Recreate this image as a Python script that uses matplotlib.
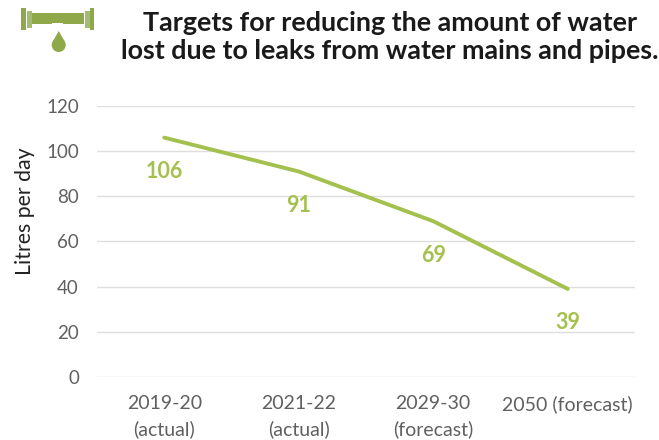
import matplotlib
matplotlib.use('Agg')
import matplotlib.pyplot as plt
from matplotlib.patches import Rectangle, Polygon, Circle

plt.rcParams['font.family'] = ['Lato', 'DejaVu Sans']

periods = ['2019-20\n(actual)', '2021-22\n(actual)', '2029-30\n(forecast)', '2050 (forecast)']
litres = [106, 91, 69, 39]
y_ticks = [0, 20, 40, 60, 80, 100, 120]
title = 'Targets for reducing the amount of water\nlost due to leaks from water mains and pipes.'

green = '#a4c04e'
dark_green = '#8fa94a'
light_green = '#a5ba72'
grey = '#606060'

W, H = 659, 440
fig = plt.figure(figsize=(W / 100, H / 100), dpi=100)
ax = fig.add_axes([97 / W, 1 - 377 / H, 538 / W, 271 / H])

x = range(len(periods))
ax.plot(x, litres, color=green, linewidth=2.8, solid_capstyle='round')

# value labels sit below the line
for i, v in zip(x, litres):
    ax.annotate(str(v), (i, v), xytext=(0, -24.5), textcoords='offset points',
                ha='center', va='center', color=green, fontsize=15.5, fontweight='bold')

ax.set_xlim(-0.5, 3.5)
ax.set_ylim(0, 120)
ax.set_yticks(y_ticks)
ax.set_xticks(list(x))
ax.set_xticklabels(periods, fontsize=14, color=grey, linespacing=1.55)
ax.tick_params(axis='y', length=0, pad=13, labelsize=13.5, labelcolor=grey)
ax.tick_params(axis='x', length=0, pad=13)
ax.grid(axis='y', color='#dedede', linewidth=1)
ax.set_axisbelow(True)
for s in ax.spines.values():
    s.set_visible(False)
fig.text(25 / W, 1 - 211 / H, 'Litres per day', rotation=90, ha='center', va='center',
         fontsize=15.3, color='#222222')

fig.text(390 / W, 1 - 37 / H, title, ha='center', va='center', fontsize=19.4,
         fontweight='bold', color='#1a1a1a', linespacing=1.2)

# pipe and drip icon, drawn in pixel coordinates on a full-figure overlay
icon = fig.add_axes([0, 0, 1, 1], facecolor='none')
icon.set_xlim(0, W)
icon.set_ylim(H, 0)
icon.axis('off')
icon.add_patch(Rectangle((32, 13), 52, 11, color=dark_green, lw=0))
icon.add_patch(Rectangle((21, 8), 5, 22, color=dark_green, lw=0))
icon.add_patch(Rectangle((26.5, 11), 5, 17, color=light_green, lw=0))
icon.add_patch(Rectangle((84.5, 11), 5, 17, color=light_green, lw=0))
icon.add_patch(Rectangle((90, 8), 4, 22, color=dark_green, lw=0))
icon.add_patch(Rectangle((52, 23), 11, 2, color='white', lw=0))
icon.add_patch(Circle((58.7, 45), 7, color=dark_green, lw=0))
icon.add_patch(Polygon([(52.5, 42), (58.7, 31), (65, 42)], color=dark_green, lw=0))

fig.savefig('out.png', dpi=100)
